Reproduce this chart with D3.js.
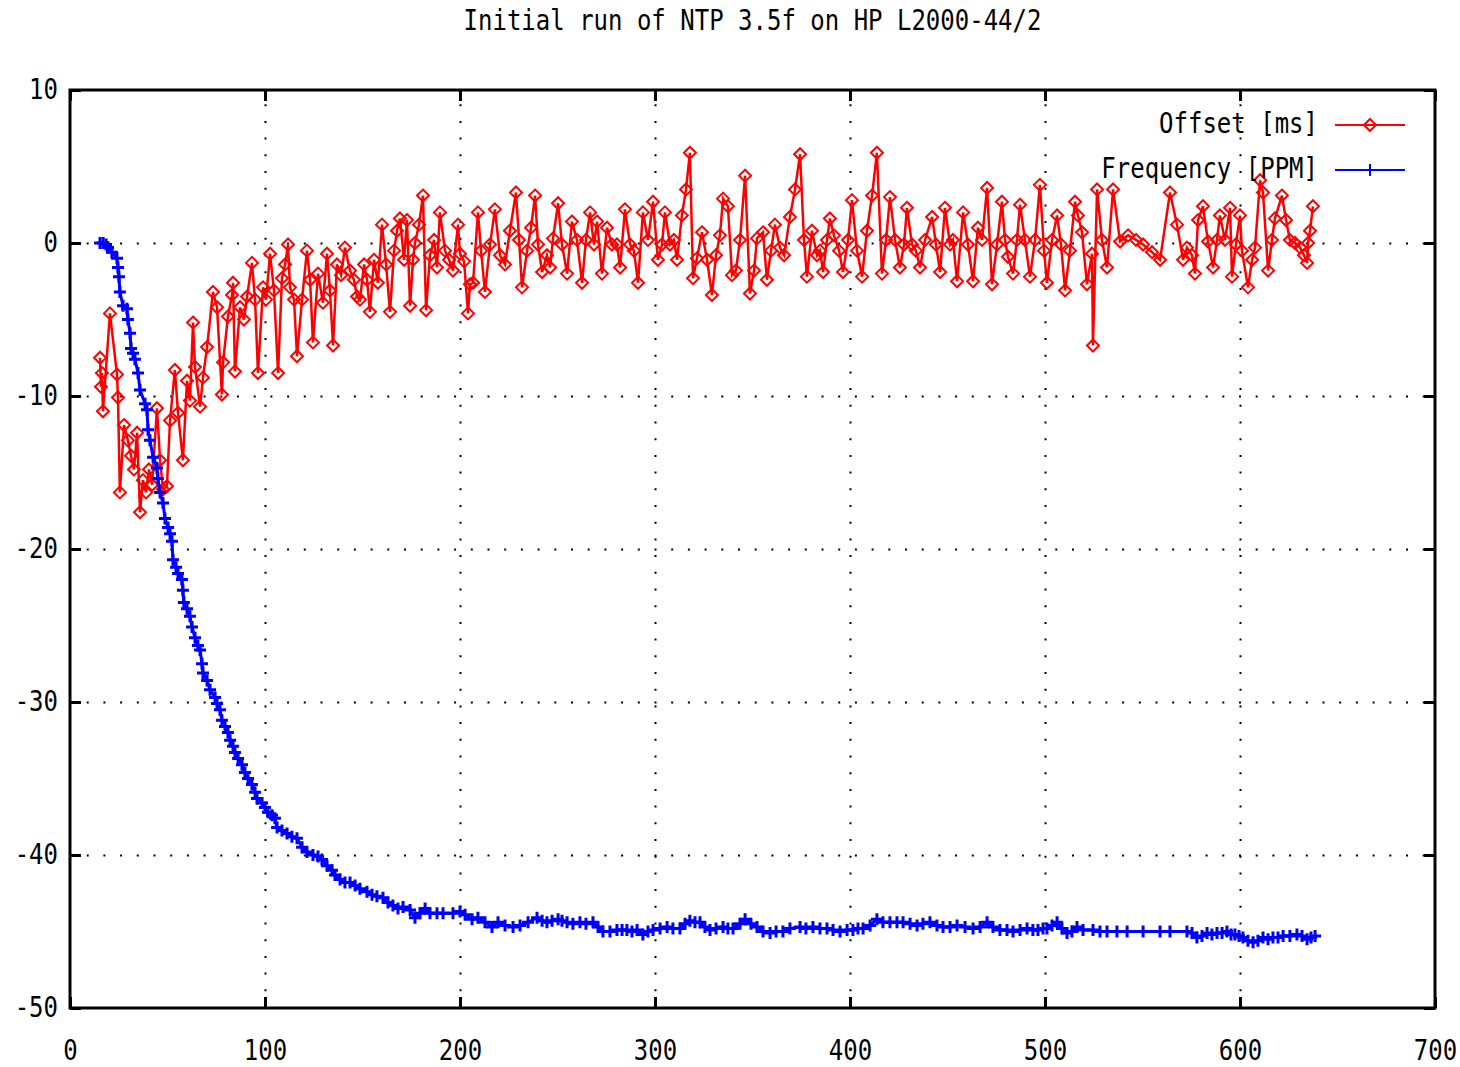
<!DOCTYPE html>
<html>
  <head>
    <meta charset="utf-8">
    <script src="https://d3js.org/d3.v7.min.js"></script>
    <style>
      body { margin: 0; background: #fff; }
      text { font-family: "DejaVu Sans Mono", monospace; font-size: 24px; fill: #000; }
    </style>
  </head>
  <body>
    <svg id="chart" width="1460" height="1067"></svg>
    <script>
      const title = "Initial run of NTP 3.5f on HP L2000-44/2";
      const xTicks = [0, 100, 200, 300, 400, 500, 600, 700];
      const yTicks = [-50, -40, -30, -20, -10, 0, 10];
      const seriesNames = ["Offset [ms]", "Frequency [PPM]"];
      const seriesColors = ["#ff0000", "#0000ff"];

      // offset [time, ms]
      const offsetData = [
        [15.4,-7.5],[15.9,-9.4],[16.4,-8.5],[16.9,-11.0],[20.5,-4.6],[24.1,-8.6],[24.6,-10.1],[25.6,-16.3],
        [27.7,-11.9],[29.7,-12.9],[31.3,-13.9],[32.8,-14.8],[34.4,-12.4],[35.9,-17.6],[37.4,-15.5],[39.0,-16.3],
        [40.5,-14.8],[42.1,-15.8],[44.6,-10.8],[46.2,-14.2],[47.7,-16.1],[49.7,-15.9],[51.3,-11.6],[53.8,-8.3],
        [55.4,-11.1],[57.9,-14.2],[60.0,-9.0],[61.5,-10.3],[63.1,-5.2],[64.1,-8.1],[66.7,-10.7],[68.2,-8.8],
        [70.3,-6.8],[73.3,-3.2],[75.4,-4.2],[77.9,-9.9],[78.5,-7.8],[81.0,-4.8],[83.1,-3.4],[83.6,-2.6],
        [84.6,-8.4],[87.2,-4.2],[89.2,-5.0],[90.8,-3.5],[93.3,-1.3],[94.9,-3.7],[96.4,-8.5],[99.0,-2.9],
        [100.5,-3.7],[102.6,-0.7],[104.6,-3.1],[106.7,-8.5],[108.7,-2.3],[110.3,-1.4],[111.8,-0.1],[112.8,-2.9],
        [114.9,-3.7],[116.4,-7.4],[119.0,-3.7],[121.5,-0.5],[123.1,-2.4],[124.6,-6.5],[127.2,-2.0],[129.7,-3.9],
        [131.8,-0.7],[133.3,-3.1],[134.9,-6.7],[136.9,-1.4],[139.0,-2.1],[141.0,-0.3],[143.6,-1.8],[145.6,-2.4],
        [147.2,-3.5],[148.7,-3.7],[150.8,-1.4],[152.3,-2.4],[153.8,-4.5],[155.9,-1.1],[157.9,-2.6],[160.0,1.2],
        [162.1,-1.4],[164.1,-4.5],[166.2,-0.5],[167.7,0.8],[169.2,1.6],[171.3,-1.1],[172.8,1.5],[174.4,-4.1],
        [175.9,-1.1],[176.9,0.0],[179.0,1.2],[181.0,3.1],[182.6,-4.4],[184.6,-0.8],[186.7,0.2],[188.2,-1.6],
        [189.7,2.0],[192.3,-0.5],[194.4,-1.1],[196.4,-1.8],[199.0,1.2],[200.0,-0.7],[202.1,-1.2],[204.1,-4.6],
        [205.1,-2.7],[206.7,-2.6],[209.2,2.0],[210.8,-0.5],[212.8,-3.2],[215.4,-0.1],[217.9,2.2],[220.5,-0.8],
        [223.1,-1.4],[225.6,0.8],[228.7,3.3],[230.3,0.2],[231.8,-2.9],[234.4,-0.5],[236.4,1.0],[238.5,3.1],
        [240.0,-0.1],[242.1,-1.9],[244.6,-0.8],[246.2,-1.6],[247.7,0.3],[250.3,2.6],[252.3,-0.1],[254.9,-2.0],
        [257.4,1.4],[260.0,0.2],[262.6,-2.6],[264.6,0.2],[266.7,2.0],[268.7,-0.1],[270.3,1.4],[272.8,-2.0],
        [275.4,1.0],[277.9,-0.1],[280.5,-0.1],[282.1,-1.6],[284.6,2.2],[287.2,-0.1],[289.2,-0.5],[291.3,-2.6],
        [293.8,2.0],[296.4,0.2],[299.0,2.7],[301.5,-1.1],[303.6,-0.1],[305.1,2.0],[307.7,-0.1],[309.7,0.2],
        [311.3,-1.1],[313.8,1.8],[315.9,3.5],[317.9,5.9],[319.5,-2.3],[321.5,-1.0],[324.1,0.7],[326.7,-1.1],
        [329.2,-3.4],[331.3,-0.8],[333.3,0.5],[334.9,2.9],[337.4,2.4],[339.5,-2.1],[341.5,-1.8],[343.6,0.2],
        [346.2,4.4],[348.7,-3.3],[350.8,-1.8],[352.3,0.3],[355.4,0.7],[357.4,-2.4],[359.5,-0.5],[361.5,1.2],
        [364.1,-0.3],[366.2,-0.8],[369.2,1.7],[371.8,3.5],[374.4,5.8],[376.4,0.2],[377.9,-2.2],[380.5,0.8],
        [383.1,-0.8],[384.6,-0.5],[386.2,-1.9],[388.2,0.2],[389.7,1.6],[391.8,0.5],[394.4,-0.5],[396.4,-1.9],
        [399.0,0.2],[401.0,2.8],[403.6,-0.5],[406.2,-2.2],[408.7,0.8],[411.3,3.1],[413.8,5.9],[416.4,-2.0],
        [418.5,0.2],[420.5,3.0],[423.1,0.2],[425.6,-1.6],[427.7,-0.1],[429.2,2.3],[431.8,-0.1],[433.8,-0.5],
        [435.9,-1.6],[438.5,0.2],[442.1,1.7],[444.1,-0.1],[446.2,-1.9],[448.7,2.3],[451.3,-0.1],[452.8,0.2],
        [454.9,-2.5],[458.0,2.0],[460.5,-0.1],[463.1,-2.5],[465.6,1.0],[467.7,0.2],[470.3,3.6],[472.8,-2.7],
        [475.4,-0.1],[477.9,2.7],[479.5,0.2],[481.0,-0.9],[483.6,-2.0],[485.6,0.2],[487.2,2.5],[489.7,0.2],
        [492.3,-2.2],[494.9,0.2],[497.4,3.8],[499.5,-0.5],[501.0,-2.6],[503.6,0.2],[506.2,1.8],[508.2,-0.1],
        [510.3,-3.1],[512.8,-0.5],[515.4,2.7],[516.9,1.8],[519.0,0.7],[521.5,-2.7],[524.1,-0.7],[524.6,-6.7],
        [526.7,3.5],[529.2,0.2],[531.8,-1.6],[534.9,3.5],[538.5,0.1],[542.6,0.5],[546.7,0.2],[550.3,-0.1],
        [554.9,-0.6],[559.0,-1.1],[564.1,3.3],[567.7,1.2],[570.8,-1.1],[572.8,-0.3],[575.4,-0.8],[576.9,-2.0],
        [578.5,1.5],[581.0,2.4],[583.6,0.1],[586.2,-1.6],[588.2,0.2],[589.7,1.8],[592.3,0.2],[594.9,2.3],
        [595.9,-2.2],[597.9,-0.1],[600.0,1.8],[601.0,-0.5],[604.1,-2.9],[606.2,-1.1],[607.7,-0.3],[610.3,4.1],
        [611.8,3.3],[614.4,-1.8],[616.4,0.2],[617.9,1.6],[621.5,3.1],[623.6,1.5],[625.6,0.2],[628.2,0.0],
        [630.8,-0.3],[632.8,-0.8],[634.4,-1.3],[634.9,0.0],[635.9,0.8],[637.4,2.4]
      ];

      // frequency [time, PPM]
      const frequencyData = [
        [15.4,0.0],[17.0,0.0],[18.5,-0.1],[19.5,-0.3],[21.5,-0.6],[24.1,-1.0],[24.6,-1.6],[25.1,-2.2],
        [25.6,-3.2],[27.2,-4.1],[29.2,-4.3],[29.7,-5.0],[30.8,-5.9],[31.3,-6.9],[32.3,-7.2],[33.3,-7.6],
        [34.9,-8.5],[35.9,-9.6],[38.5,-10.5],[39.5,-10.9],[40.0,-12.2],[41.0,-12.9],[42.6,-14.0],[44.6,-14.7],
        [45.1,-15.4],[46.2,-16.3],[47.7,-17.0],[48.7,-18.0],[50.3,-18.6],[51.3,-19.0],[52.3,-19.5],[52.8,-20.7],
        [54.4,-21.2],[55.4,-21.6],[57.4,-22.0],[57.9,-22.7],[58.4,-23.5],[60.0,-23.9],[61.5,-24.4],[62.6,-25.1],
        [64.1,-25.8],[65.6,-26.3],[66.7,-26.6],[67.7,-27.5],[68.2,-28.1],[70.3,-28.6],[71.8,-29.2],[74.4,-29.7],
        [75.4,-30.1],[76.9,-30.5],[77.9,-31.2],[79.5,-31.6],[81.0,-32.0],[82.1,-32.5],[83.6,-32.9],[84.6,-33.3],
        [86.2,-33.7],[88.2,-34.1],[89.7,-34.6],[91.3,-35.0],[93.3,-35.4],[94.9,-35.9],[95.9,-36.3],[98.5,-36.6],
        [100.0,-36.9],[101.5,-37.2],[103.6,-37.4],[105.1,-37.6],[106.2,-38.2],[108.7,-38.4],[111.3,-38.6],[113.8,-38.8],
        [116.4,-38.9],[119.0,-39.5],[121.5,-39.8],[124.6,-40.0],[127.2,-40.1],[129.2,-40.3],[131.8,-40.7],[134.4,-41.0],
        [135.9,-41.3],[138.5,-41.6],[141.0,-41.8],[143.6,-41.8],[146.2,-42.0],[148.7,-42.2],[152.3,-42.4],[154.9,-42.6],
        [157.4,-42.7],[160.5,-42.8],[163.1,-43.1],[165.6,-43.3],[168.2,-43.5],[170.8,-43.4],[174.4,-43.6],[176.9,-44.1],
        [179.5,-43.8],[182.1,-43.5],[184.6,-43.8],[188.2,-43.8],[191.3,-43.8],[196.4,-43.8],[200.0,-43.7],[202.6,-43.9],
        [206.2,-44.2],[209.2,-44.1],[212.8,-44.4],[216.4,-44.7],[219.5,-44.4],[223.1,-44.6],[227.2,-44.7],[230.8,-44.6],
        [234.9,-44.4],[239.5,-44.1],[242.1,-44.3],[244.6,-44.4],[247.2,-44.3],[250.3,-44.2],[252.3,-44.3],[254.9,-44.4],
        [257.9,-44.5],[261.5,-44.4],[264.6,-44.5],[268.2,-44.4],[270.8,-44.7],[273.3,-45.0],[276.9,-45.0],[280.5,-44.9],
        [283.1,-44.9],[285.6,-44.9],[288.2,-45.0],[290.8,-44.9],[293.8,-45.2],[296.4,-45.0],[299.0,-44.9],[302.6,-44.8],
        [306.2,-44.7],[309.2,-44.8],[312.8,-44.8],[315.4,-44.5],[317.9,-44.3],[320.5,-44.4],[323.1,-44.4],[325.6,-44.7],
        [328.2,-44.9],[331.3,-44.8],[334.9,-44.7],[337.4,-44.8],[340.0,-44.8],[343.6,-44.5],[346.2,-44.2],[349.2,-44.5],
        [352.3,-44.7],[355.4,-45.0],[359.0,-45.1],[362.1,-45.0],[365.6,-45.0],[369.2,-44.8],[374.4,-44.7],[377.4,-44.8],
        [381.0,-44.7],[384.6,-44.8],[388.2,-44.8],[391.3,-44.9],[394.9,-45.0],[398.5,-44.9],[401.5,-44.9],[404.1,-44.8],
        [406.7,-44.8],[410.3,-44.6],[413.8,-44.2],[416.9,-44.4],[420.5,-44.4],[424.1,-44.4],[427.2,-44.4],[430.8,-44.5],
        [434.4,-44.6],[437.4,-44.5],[441.0,-44.4],[444.6,-44.6],[447.7,-44.7],[451.3,-44.7],[454.9,-44.6],[459.0,-44.7],
        [463.1,-44.8],[466.7,-44.7],[470.3,-44.4],[473.3,-44.7],[476.9,-44.9],[480.5,-44.9],[483.6,-45.0],[487.2,-44.9],
        [490.8,-44.8],[493.8,-44.9],[496.4,-44.9],[499.0,-44.8],[501.0,-44.8],[503.6,-44.6],[506.2,-44.4],[508.7,-44.8],
        [511.3,-45.1],[513.8,-45.0],[516.4,-44.7],[519.5,-44.9],[524.6,-44.9],[528.2,-45.0],[531.8,-45.0],[536.9,-45.0],
        [542.1,-45.0],[550.3,-45.0],[559.0,-45.0],[564.1,-45.0],[572.8,-45.0],[575.4,-45.1],[577.9,-45.4],[580.5,-45.3],
        [583.1,-45.1],[585.6,-45.2],[588.2,-45.1],[590.8,-45.1],[593.3,-45.0],[595.4,-45.2],[597.4,-45.2],[599.5,-45.3],
        [601.5,-45.4],[604.1,-45.6],[606.7,-45.7],[609.2,-45.6],[611.8,-45.4],[614.4,-45.5],[616.9,-45.4],[619.5,-45.4],
        [622.1,-45.3],[625.6,-45.3],[629.2,-45.2],[631.8,-45.3],[634.4,-45.5],[636.4,-45.4],[638.5,-45.3]
      ];

      const svg = d3.select("#chart");
      const margin = {top: 90, right: 25, bottom: 59, left: 70};
      const W = 1460, H = 1067;
      const plotW = W - margin.left - margin.right;
      const plotH = H - margin.top - margin.bottom;

      const x = d3.scaleLinear().domain([0, 700]).range([margin.left, W - margin.right]);
      const y = d3.scaleLinear().domain([-50, 10]).range([H - margin.bottom, margin.top]);

      const yStretch = 1.15;
      const fmt = d => String(d);

      svg.append("text")
        .attr("text-anchor", "middle")
        .attr("transform", `translate(${(margin.left + W - margin.right) / 2},30) scale(1,${yStretch})`)
        .text(title);

      // dotted grid
      const gridX = svg.append("g")
        .attr("transform", `translate(0,${H - margin.bottom})`)
        .call(d3.axisBottom(x).tickValues(xTicks.slice(1, -1)).tickSize(-plotH).tickFormat(""));
      const gridY = svg.append("g")
        .attr("transform", `translate(${margin.left},0)`)
        .call(d3.axisLeft(y).tickValues(yTicks.slice(1, -1)).tickSize(-plotW).tickFormat(""));
      [gridX, gridY].forEach(g => {
        g.select(".domain").remove();
        g.selectAll("line").attr("stroke", "#000").attr("stroke-width", 2)
          .attr("stroke-dasharray", "2,14.7");
      });

      // axes with inward ticks
      const bottomAxis = svg.append("g")
        .attr("transform", `translate(0,${H - margin.bottom})`)
        .call(d3.axisBottom(x).tickValues(xTicks).tickSize(-11).tickFormat(fmt));
      const topAxis = svg.append("g")
        .attr("transform", `translate(0,${margin.top})`)
        .call(d3.axisTop(x).tickValues(xTicks).tickSize(-11).tickFormat(""));
      const leftAxis = svg.append("g")
        .attr("transform", `translate(${margin.left},0)`)
        .call(d3.axisLeft(y).tickValues(yTicks).tickSize(-11).tickPadding(12).tickFormat(fmt));
      const rightAxis = svg.append("g")
        .attr("transform", `translate(${W - margin.right},0)`)
        .call(d3.axisRight(y).tickValues(yTicks).tickSize(-11).tickFormat(""));
      [bottomAxis, topAxis, leftAxis, rightAxis].forEach(g => {
        g.select(".domain").remove();
        g.selectAll("line").attr("stroke", "#000").attr("stroke-width", 3);
        g.selectAll("text").attr("font-size", null).style("font-family", null);
      });
      bottomAxis.selectAll("text").attr("dy", null).attr("y", null)
        .attr("transform", `translate(0,52) scale(1,${yStretch})`);
      leftAxis.selectAll("text").attr("dy", null)
        .attr("transform", `translate(0,8) scale(1,${yStretch})`);

      svg.append("rect")
        .attr("x", margin.left).attr("y", margin.top)
        .attr("width", plotW).attr("height", plotH)
        .attr("fill", "none").attr("stroke", "#000").attr("stroke-width", 3);

      const line = d3.line().x(d => x(d[0])).y(d => y(d[1]));
      const diamond = "M0,-6L6,0L0,6L-6,0Z";
      const plus = "M-6,0H6M0,-6V6";

      function drawSeries(data, color, marker, lw, mw) {
        svg.append("path").datum(data)
          .attr("d", line).attr("fill", "none")
          .attr("stroke", color).attr("stroke-width", lw);
        svg.append("g").selectAll("path").data(data).join("path")
          .attr("transform", d => `translate(${x(d[0])},${y(d[1])})`)
          .attr("d", marker).attr("fill", "none")
          .attr("stroke", color).attr("stroke-width", mw);
      }
      drawSeries(offsetData, seriesColors[0], diamond, 2.5, 2);
      drawSeries(frequencyData, seriesColors[1], plus, 3, 3);

      // legend
      const legend = svg.append("g");
      seriesNames.forEach((name, i) => {
        const ly = 125 + i * 45;
        legend.append("text")
          .attr("text-anchor", "end")
          .attr("transform", `translate(1318,${ly + 8}) scale(1,${yStretch})`)
          .text(name);
        legend.append("line")
          .attr("x1", 1335).attr("x2", 1405).attr("y1", ly).attr("y2", ly)
          .attr("stroke", seriesColors[i]).attr("stroke-width", 2);
        legend.append("path")
          .attr("transform", `translate(1370,${ly})`)
          .attr("d", i === 0 ? diamond : plus)
          .attr("fill", "none").attr("stroke", seriesColors[i]).attr("stroke-width", 2);
      });
    </script>
  </body>
</html>
